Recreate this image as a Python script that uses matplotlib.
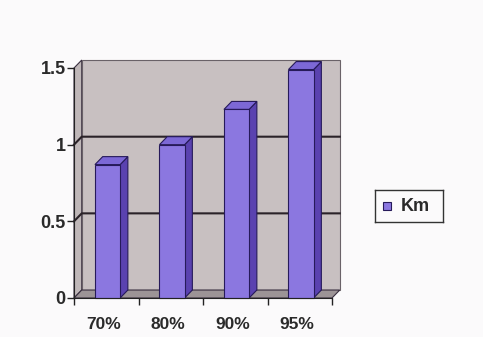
import matplotlib.pyplot as plt
from matplotlib.patches import Polygon, Rectangle

categories = ["70%", "80%", "90%", "95%"]
km = [0.87, 1.0, 1.23, 1.49]
y_ticks = [0, 0.5, 1, 1.5]
y_tick_labels = ["0", "0.5", "1", "1.5"]
series_name = "Km"

plt.rcParams["font.family"] = ["Liberation Sans", "DejaVu Sans"]

fig = plt.figure(figsize=(4.83, 3.37), dpi=100)
fig.patch.set_facecolor("#fbfafb")
ax = fig.add_axes([74 / 483, 39 / 337, 258 / 483, 230 / 337])
ax.set_xlim(-0.5, len(categories) - 0.5)
ax.set_ylim(0, 1.5)
ax.patch.set_visible(False)

# depth of the fake 3d effect, in data units
dx = 0.12
dy = 0.052
x0, x1 = -0.5, len(categories) - 0.5
ymax = 1.5

wall_col = "#c8c0c1"
edge = "#3a3040"

# left side wall
ax.add_patch(Polygon([(x0, 0), (x0 + dx, dy), (x0 + dx, ymax + dy), (x0, ymax)],
                     closed=True, fc="#bfb7b8", ec=edge, lw=0.8, clip_on=False, zorder=1))
# back wall
ax.add_patch(Rectangle((x0 + dx, dy), x1 - x0, ymax, fc=wall_col, ec="#6a6268",
                       lw=0.8, clip_on=False, zorder=1))
# floor
ax.add_patch(Polygon([(x0, 0), (x1, 0), (x1 + dx, dy), (x0 + dx, dy)],
                     closed=True, fc="#9c9496", ec=edge, lw=0.8, clip_on=False, zorder=2))

# gridlines on the walls
for t in y_ticks[1:-1]:
    ax.plot([x0, x0 + dx, x1 + dx], [t, t + dy, t + dy], color="#2a2228",
            lw=1.5, clip_on=False, zorder=2)

# bars
w = 0.39
front = "#8b77e0"
side = "#5a42b0"
top = "#7c68d6"
bar_edge = "#261a5a"
for i, v in enumerate(km):
    left = i + 0.02 - w / 2
    right = left + w
    ax.add_patch(Polygon([(right, 0), (right + dx, dy), (right + dx, v + dy), (right, v)],
                         closed=True, fc=side, ec=bar_edge, lw=0.8, clip_on=False, zorder=3))
    ax.add_patch(Polygon([(left, v), (right, v), (right + dx, v + dy), (left + dx, v + dy)],
                         closed=True, fc=top, ec=bar_edge, lw=0.8, clip_on=False, zorder=3))
    ax.add_patch(Rectangle((left, 0), w, v, fc=front, ec=bar_edge, lw=0.8,
                           clip_on=False, zorder=4))

for s in ["top", "right"]:
    ax.spines[s].set_visible(False)
ax.spines["left"].set_color("#222222")
ax.spines["bottom"].set_color("#222222")
ax.spines["left"].set_zorder(5)
ax.spines["bottom"].set_zorder(5)

ax.set_yticks(y_ticks)
ax.set_yticklabels(y_tick_labels, fontsize=13, fontweight="bold", color="#2a2a2a")
ax.tick_params(axis="y", length=5, width=1, color="#222222", pad=1)

ax.set_xticks([i - 0.5 for i in range(len(categories) + 1)])
ax.set_xticklabels([])
ax.set_xticks([i - 0.04 for i in range(len(categories))], minor=True)
ax.set_xticklabels(categories, minor=True, fontsize=12.5, fontweight="bold", color="#2a2a2a")
ax.tick_params(axis="x", which="major", length=5, width=1, color="#222222")
ax.tick_params(axis="x", which="minor", length=0, pad=14)

# legend
leg_ax = fig.add_axes([375 / 483, (337 - 222) / 337, 68 / 483, 32 / 337])
leg_ax.set_xlim(0, 1)
leg_ax.set_ylim(0, 1)
leg_ax.set_xticks([])
leg_ax.set_yticks([])
leg_ax.patch.set_facecolor("#fbfafb")
for s in leg_ax.spines.values():
    s.set_color("#333333")
    s.set_linewidth(1)
leg_ax.add_patch(Rectangle((0.12, 0.36), 0.11, 0.28, fc=front, ec=bar_edge, lw=0.8))
leg_ax.text(0.38, 0.48, series_name, fontsize=13, fontweight="bold", color="#2a2a2a",
            va="center", ha="left")

fig.savefig("out.png", dpi=100, facecolor=fig.get_facecolor())
